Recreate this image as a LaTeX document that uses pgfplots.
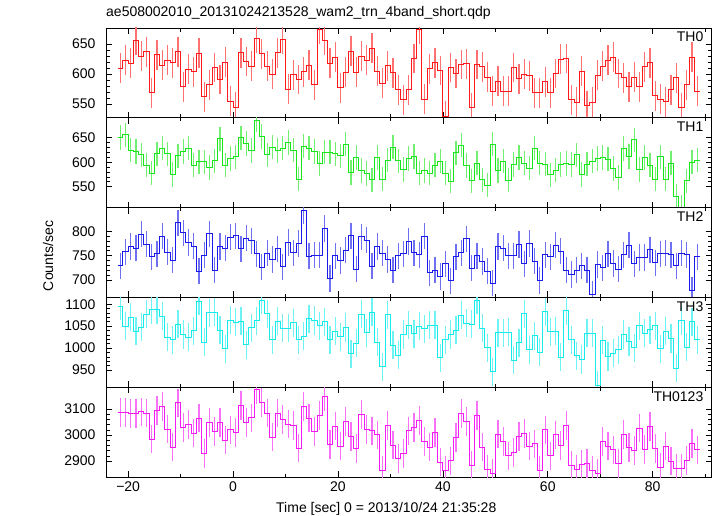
\documentclass[border=0pt]{standalone}
\usepackage{fontspec}
\setmainfont{Liberation Sans}
\usepackage{pgfplots}
\usepackage{pgfplotstable}
\pgfplotsset{compat=1.18}

% t = left edge of 1 s bin; a=TH0 b=TH1 c=TH2 d=TH3 e=TH0123 (last row closes the step)
\pgfplotstableread{
t a b c d e
-22 610 651 729 1095 3087
-21 623 656 758 1050 3087
-20 618 625 769 1070 3084
-19 657 622 765 1038 3084
-18 630 615 794 1048 3089
-17 637 594 774 1077 3085
-16 569 578 748 1088 2985
-15 632 617 754 1088 3094
-14 615 629 790 1073 3110
-13 623 617 757 1025 3023
-12 619 575 741 1019 2954
-11 637 613 818 1054 3124
-10 579 622 797 1031 3030
-9 608 629 777 1025 3040
-8 604 594 770 1040 3008
-7 635 601 718 1107 3065
-6 562 601 751 1013 2929
-5 582 589 795 1081 3049
-4 611 603 720 1082 3015
-3 591 648 769 1041 3049
-2 620 594 765 999 2981
-1 555 608 788 1064 3020
0 545 611 791 1059 3009
1 636 650 764 1061 3114
2 621 638 786 1008 3049
3 613 624 781 1046 3066
4 660 686 754 1062 3175
5 634 653 726 1109 3125
6 613 615 755 1078 3085
7 600 631 742 1019 2992
8 636 624 764 1061 3085
9 658 629 727 1045 3061
10 575 640 777 1045 3042
11 599 625 756 1058 3037
12 591 565 775 1019 2950
13 604 633 843 1027 3110
14 615 629 749 1067 3065
15 582 622 751 1063 3015
16 675 597 751 1051 3075
17 657 621 806 1060 3147
18 618 621 703 1019 2963
19 628 617 750 1038 3035
20 577 613 740 1026 2958
21 603 637 761 1047 3052
22 638 579 791 987 2994
23 603 610 722 1011 2948
24 630 583 789 1077 3078
25 623 577 782 1035 3021
26 643 564 728 1082 3016
27 605 610 769 1014 3001
28 585 565 755 958 2864
29 614 604 742 1076 3038
30 602 631 720 1007 2962
31 574 603 750 984 2910
32 557 585 754 1031 2929
33 574 608 779 1052 3016
34 626 612 756 1033 3029
35 675 578 752 1050 3056
36 558 583 790 1044 2976
37 609 578 715 1052 2954
38 619 594 720 1052 3009
39 606 602 707 978 2896
40 530 578 733 1019 2863
41 611 561 698 1031 2901
42 601 619 748 1041 2991
43 616 635 756 1075 3084
44 617 593 785 1057 3053
45 544 562 724 1055 2883
46 616 598 750 1109 3076
47 612 564 738 1045 2954
48 595 553 718 1001 2867
49 571 637 693 946 2853
50 588 583 769 1035 3004
51 571 602 765 1035 2975
52 571 563 750 1036 2920
53 611 595 750 972 2932
54 592 610 773 1012 2994
55 600 598 733 1078 3005
56 597 588 775 996 2958
57 569 629 739 1028 2966
58 569 598 699 991 2863
59 587 596 752 1083 3020
60 569 574 748 1037 2920
61 601 584 772 1039 3001
62 625 595 759 979 2959
63 626 597 720 1085 3038
64 557 595 711 1019 2882
65 553 615 720 983 2867
66 605 575 729 974 2886
67 547 596 720 1034 2892
68 553 602 671 1034 2863
69 598 608 732 916 2852
70 613 610 725 1018 2976
71 623 606 754 981 2958
72 628 587 734 989 2943
73 601 569 722 996 2892
74 594 628 752 1031 3002
75 579 612 772 1015 2952
76 595 646 733 1001 2940
77 579 585 746 1051 3027
78 612 610 746 1034 2944
79 619 594 762 1042 3034
80 564 565 735 1051 2948
81 558 611 754 999 2876
82 554 565 755 1038 2958
83 574 598 752 1022 2900
84 594 530 729 954 2872
85 544 508 755 1063 2872
86 582 562 752 1002 2902
87 628 600 679 1060 2967
88 571 604 748 1019 2943
89 571 604 748 1019 2943
}\lc

\definecolor{cA}{RGB}{255,25,25}
\definecolor{cB}{RGB}{25,230,25}
\definecolor{cC}{RGB}{25,25,235}
\definecolor{cD}{RGB}{20,235,235}
\definecolor{cE}{RGB}{245,25,245}

\newcommand{\fs}{\fontsize{14bp}{16bp}\selectfont}

\pgfplotsset{
 panel/.style={
  scale only axis, width=605.5bp, height=89.8bp,
  xmin=-24.22, xmax=91.22,
  xtick={-20,0,20,40,60,80}, minor xtick={-10,10,30,50,70,90},
  xticklabels={},
  tick align=inside, tick pos=both,
  major tick length=6bp, minor tick length=3.5bp,
  minor y tick num=4,
  axis line style={line width=0.9bp},
  every tick/.style={black, line width=0.7bp},
  ticklabel style={font=\fs},
  yticklabel style={xshift=-7bp, /pgf/number format/assume math mode=true, /pgf/number format/1000 sep={}},
  xticklabel style={yshift=-1.5bp},
  clip=true,
 },
 stp/.style={const plot mark left, no markers, line width=0.9bp, color=#1},
 ebar/.style 2 args={forget plot, draw=none, mark=none,
   error bars/.cd, y dir=both, y fixed=#2, error mark=none,
   error bar style={draw=#1!62!white, line width=1.2bp}},
}

\begin{document}
\begin{tikzpicture}
\useasboundingbox (0,0) rectangle (717bp,-516bp);

\begin{axis}[panel, at={(106bp,-28bp)}, anchor=north west,
  ymin=527, ymax=677, ytick={550,600,650}]
\addplot[ebar={cA}{25}] table[x expr=\thisrow{t}+0.5, y=a, skip coords between index={111}{112}] {\lc};
\addplot[stp=cA] table[x=t, y=a] {\lc};
\node[anchor=north east, font=\fs, inner sep=0pt, xshift=-8bp, yshift=-4bp] at (rel axis cs:1,1) {TH0};
\end{axis}

\begin{axis}[panel, at={(106bp,-117.8bp)}, anchor=north west,
  ymin=507, ymax=691, ytick={550,600,650}]
\addplot[ebar={cB}{25}] table[x expr=\thisrow{t}+0.5, y=b, skip coords between index={111}{112}] {\lc};
\addplot[stp=cB] table[x=t, y=b] {\lc};
\node[anchor=north east, font=\fs, inner sep=0pt, xshift=-8bp, yshift=-4bp] at (rel axis cs:1,1) {TH1};
\end{axis}

\begin{axis}[panel, at={(106bp,-207.6bp)}, anchor=north west,
  ymin=664, ymax=849, ytick={700,750,800}]
\addplot[ebar={cC}{27}] table[x expr=\thisrow{t}+0.5, y=c, skip coords between index={111}{112}] {\lc};
\addplot[stp=cC] table[x=t, y=c] {\lc};
\node[anchor=north east, font=\fs, inner sep=0pt, xshift=-8bp, yshift=-4bp] at (rel axis cs:1,1) {TH2};
\end{axis}

\begin{axis}[panel, at={(106bp,-297.4bp)}, anchor=north west,
  ymin=911, ymax=1115.5, ytick={950,1000,1050,1100}]
\addplot[ebar={cD}{32}] table[x expr=\thisrow{t}+0.5, y=d, skip coords between index={111}{112}] {\lc};
\addplot[stp=cD] table[x=t, y=d] {\lc};
\node[anchor=north east, font=\fs, inner sep=0pt, xshift=-8bp, yshift=-4bp] at (rel axis cs:1,1) {TH3};
\end{axis}

\begin{axis}[panel, at={(106bp,-387.2bp)}, anchor=north west,
  ymin=2839, ymax=3184, ytick={2900,3000,3100},
  xticklabels={−20,0,20,40,60,80}]
\addplot[ebar={cE}{55}] table[x expr=\thisrow{t}+0.5, y=e, skip coords between index={111}{112}] {\lc};
\addplot[stp=cE] table[x=t, y=e] {\lc};
\node[anchor=north east, font=\fs, inner sep=0pt, xshift=-8bp, yshift=-4bp] at (rel axis cs:1,1) {TH0123};
\end{axis}

\node[anchor=base west, font=\fs, inner sep=0pt] at (106bp,-16bp) {ae508002010\_20131024213528\_wam2\_trn\_4band\_short.qdp};
\node[rotate=90, font=\fs, inner sep=0pt] at (48bp,-256bp) {Counts/sec};
\node[anchor=base west, font=\fs, inner sep=0pt] at (276bp,-512bp) {Time [sec] 0 = 2013/10/24 21:35:28};
\end{tikzpicture}
\end{document}
